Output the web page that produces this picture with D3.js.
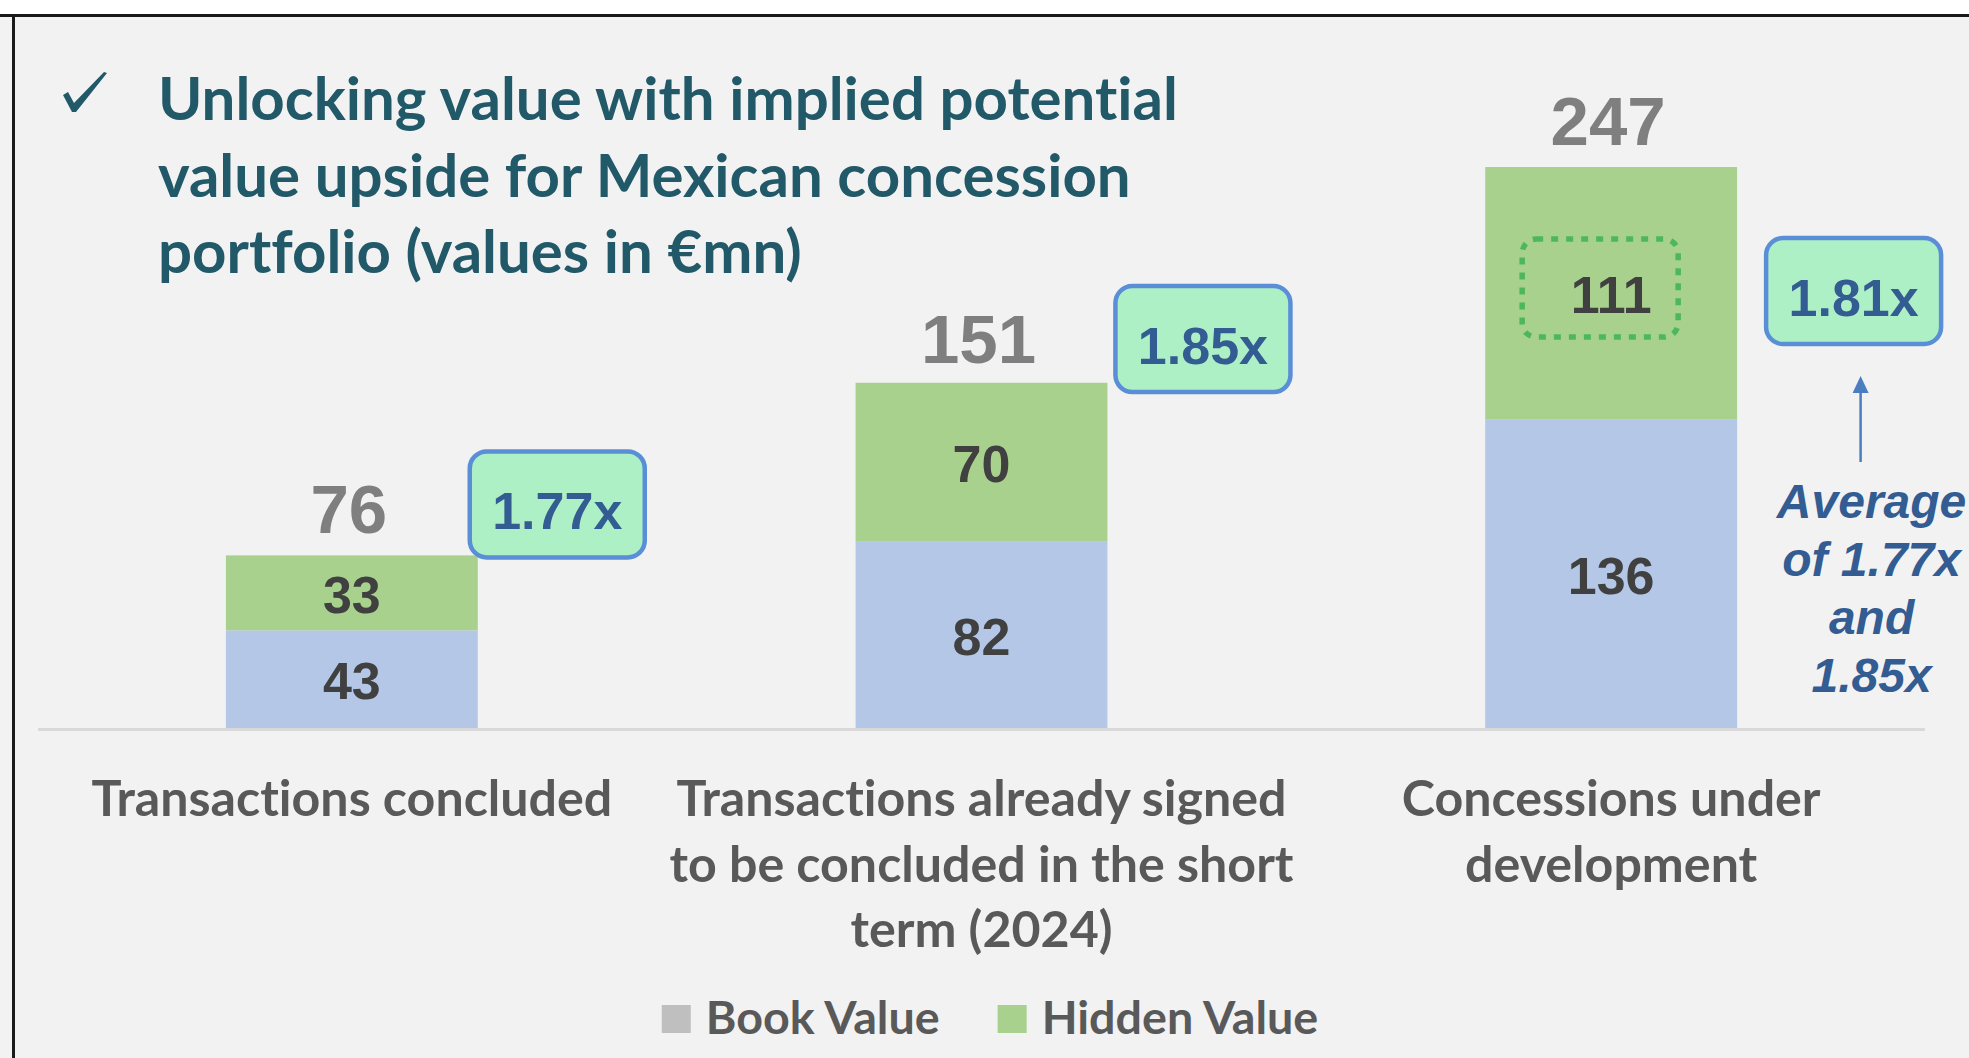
<!DOCTYPE html>
<html lang="en">
<head>
<meta charset="utf-8">
<title>Mexican concession portfolio</title>
<style>
  html, body { margin: 0; padding: 0; background: #fff; }
  svg { display: block; }
  .bold-sans { font-family: Lato, "Open Sans", sans-serif; font-weight: 700; font-variant-ligatures: none; }
  .arial { font-family: "Liberation Sans", Arial, sans-serif; font-weight: 700; }
</style>
</head>
<body>
<svg id="chart" width="1969" height="1058"></svg>
<script src="https://d3js.org/d3.v7.min.js"></script>
<script>

// data (values in €mn)
var categories = ["Transactions concluded", "Transactions already signed to be concluded in the short term (2024)", "Concessions under development"];
var categoryLines = [
  ["Transactions concluded"],
  ["Transactions already signed", "to be concluded in the short", "term (2024)"],
  ["Concessions under", "development"]
];
var seriesNames = ["Book Value", "Hidden Value"];
var bookValue = [43, 82, 136];
var hiddenValue = [33, 70, 111];
var totals = [76, 151, 247];
var multiples = ["1.77x", "1.85x", "1.81x"];
var titleLines = ["Unlocking value with implied potential", "value upside for Mexican concession", "portfolio (values in €mn)"];
var averageNote = ["Average", "of 1.77x", "and", "1.85x"];

var svg = d3.select("#chart"),
    width = +svg.attr("width"),
    height = +svg.attr("height");

var colBook = "#b4c7e7", colHidden = "#a9d18e", colLegendBook = "#bfbfbf",
    boxFill = "#aef0c6", boxStroke = "#5a8ed6", multText = "#335c92";

// background + frame
svg.append("rect").attr("x", 0).attr("y", 14).attr("width", width).attr("height", height - 14).attr("fill", "#f2f2f2");
svg.append("line").attr("x1", 0).attr("x2", width).attr("y1", 15.5).attr("y2", 15.5)
  .attr("stroke", "#1a1a1a").attr("stroke-width", 3);
svg.append("line").attr("x1", 13.5).attr("x2", 13.5).attr("y1", 14).attr("y2", height)
  .attr("stroke", "#1a1a1a").attr("stroke-width", 3);

// scales
var x = d3.scaleBand().domain(categories).range([37, 1926]).paddingInner(0.6).paddingOuter(0.3);
var y = d3.scaleLinear().domain([0, d3.max(totals)]).range([728, 167]);

var table = categories.map(function(c, i) {
  return { cat: c, book: bookValue[i], hidden: hiddenValue[i], total: totals[i], mult: multiples[i], i: i };
});
var stack = d3.stack().keys(["book", "hidden"])(table);
var colors = { book: colBook, hidden: colHidden };

// baseline
svg.append("line")
  .attr("x1", x.range()[0] + 1).attr("x2", x.range()[1] - 1)
  .attr("y1", y(0) + 1.5).attr("y2", y(0) + 1.5)
  .attr("stroke", "#d9d9d9").attr("stroke-width", 3);

// bars
var layer = svg.append("g").selectAll("g")
  .data(stack).enter().append("g")
  .attr("fill", function(d) { return colors[d.key]; });

layer.selectAll("rect")
  .data(function(d) { return d; })
  .enter().append("rect")
  .attr("x", function(d) { return x(d.data.cat); })
  .attr("width", x.bandwidth())
  .attr("y", function(d) { return y(d[1]); })
  .attr("height", function(d) { return y(d[0]) - y(d[1]); });

// segment labels
layer.selectAll("text")
  .data(function(d) { return d.map(function(p) { return { p: p, key: d.key }; }); })
  .enter().append("text")
  .attr("class", "arial")
  .attr("font-size", 52)
  .attr("fill", "#404040")
  .attr("text-anchor", "middle")
  .attr("x", function(d) { return x(d.p.data.cat) + x.bandwidth() / 2; })
  .attr("y", function(d) { return (y(d.p[0]) + y(d.p[1])) / 2 + 20; })
  .text(function(d) { return d.p.data[d.key]; });

// totals
svg.append("g").selectAll("text")
  .data(table).enter().append("text")
  .attr("class", "arial")
  .attr("font-size", 69)
  .attr("fill", "#7f7f7f")
  .attr("text-anchor", "middle")
  .attr("x", function(d) { return x(d.cat) + x.bandwidth() / 2 - 3; })
  .attr("y", function(d) { return y(d.total) - 22; })
  .text(function(d) { return d.total; });

// dotted highlight around the last hidden value
var last = table[2];
var hidMid = (y(last.book) + y(last.total)) / 2;
svg.append("rect")
  .attr("x", x(last.cat) + x.bandwidth() / 2 - 89)
  .attr("y", hidMid - 54)
  .attr("width", 156).attr("height", 98)
  .attr("rx", 14)
  .attr("fill", "none")
  .attr("stroke", "#4cb85a")
  .attr("stroke-width", 5.5)
  .attr("stroke-dasharray", "7,8");

// multiple boxes
var boxW = 179, boxH = 110;
var boxDx = [-10, 6, 27], boxDy = [-106, -101, 69];
var boxes = svg.append("g").selectAll("g")
  .data(table).enter().append("g")
  .attr("transform", function(d) {
    return "translate(" + (x(d.cat) + x.bandwidth() + boxDx[d.i]) + "," + (y(d.total) + boxDy[d.i]) + ")";
  });
boxes.append("rect")
  .attr("x", 2).attr("y", 2)
  .attr("width", boxW - 4).attr("height", boxH - 4)
  .attr("rx", 17)
  .attr("fill", boxFill)
  .attr("stroke", boxStroke)
  .attr("stroke-width", 4.5);
boxes.append("text")
  .attr("class", "arial")
  .attr("font-size", 52)
  .attr("fill", multText)
  .attr("text-anchor", "middle")
  .attr("x", boxW / 2)
  .attr("y", 80)
  .text(function(d) { return d.mult; });

// arrow + average note
var ax = x(last.cat) + x.bandwidth() + boxDx[2] + boxW / 2 + 7,
    aTop = y(last.total) + boxDy[2] + boxH + 30;
svg.append("line")
  .attr("x1", ax).attr("x2", ax)
  .attr("y1", aTop + 14).attr("y2", aTop + 86)
  .attr("stroke", "#4a7ec0").attr("stroke-width", 2.5);
svg.append("path")
  .attr("d", "M" + ax + "," + aTop + " l8,17 l-16,0 z")
  .attr("fill", "#4a7ec0");

svg.append("g").selectAll("text")
  .data(averageNote).enter().append("text")
  .attr("font-family", "'Liberation Sans', Arial, sans-serif")
  .attr("font-weight", 700)
  .attr("font-style", "italic")
  .attr("font-size", 48)
  .attr("fill", multText)
  .attr("text-anchor", "middle")
  .attr("x", ax + 11)
  .attr("y", function(d, i) { return aTop + 142 + i * 58; })
  .text(function(d) { return d; });

// helper: scale font so a reference line has the wanted width
function fitFont(sel, target) {
  var w = sel.node().getComputedTextLength();
  var fs = parseFloat(sel.attr("font-size"));
  return fs * target / w;
}

// check mark (calligraphic tick)
svg.append("path")
  .attr("transform", "translate(63,72)")
  .attr("d", "M0,23 L5,20 L11,31 L41,0 L44,1 L13,40 L9,40 Z")
  .attr("fill", "#215968");

var title = svg.append("g").attr("class", "bold-sans").attr("fill", "#215968");
var tl = title.selectAll("text").data(titleLines).enter().append("text")
  .attr("x", 158)
  .attr("y", function(d, i) { return 120 + i * 76.5; })
  .attr("font-size", 56)
  .text(function(d) { return d; });
var tfs = fitFont(d3.select(tl.nodes()[0]), 1020);
tl.attr("font-size", tfs);

// category labels
var cats = svg.append("g").attr("class", "bold-sans").attr("fill", "#595959");
var catText = cats.selectAll("text").data(table).enter().append("text")
  .attr("text-anchor", "middle")
  .attr("font-size", 46)
  .attr("x", function(d) { return x(d.cat) + x.bandwidth() / 2; })
  .attr("y", 816);
catText.selectAll("tspan")
  .data(function(d) { return categoryLines[d.i]; })
  .enter().append("tspan")
  .attr("x", function() { var p = d3.select(this.parentNode).datum(); return x(p.cat) + x.bandwidth() / 2; })
  .attr("dy", function(d, i) { return i === 0 ? 0 : 65.5; })
  .text(function(d) { return d; });
var cfs = fitFont(d3.select(catText.nodes()[0]), 521);
catText.attr("font-size", cfs);

// legend
var legend = svg.append("g").attr("class", "bold-sans").attr("fill", "#595959");
var legColors = [colLegendBook, colHidden];
var lx = 0, items = [];
var probe = legend.append("text").attr("font-size", 46).text(seriesNames[0]);
var lfs = fitFont(probe, 234);
probe.remove();
seriesNames.forEach(function(name, i) {
  var g = legend.append("g");
  g.append("rect").attr("width", 29).attr("height", 28).attr("y", -29).attr("fill", legColors[i]);
  var t = g.append("text").attr("x", 44).attr("font-size", lfs).text(name);
  items.push({ g: g, w: 44 + t.node().getComputedTextLength() });
});
var totalW = d3.sum(items, function(d) { return d.w; }) + 58 * (items.length - 1);
lx = 990 - totalW / 2;
items.forEach(function(it) {
  it.g.attr("transform", "translate(" + lx + ",1034)");
  lx += it.w + 58;
});

</script>
</body>
</html>
